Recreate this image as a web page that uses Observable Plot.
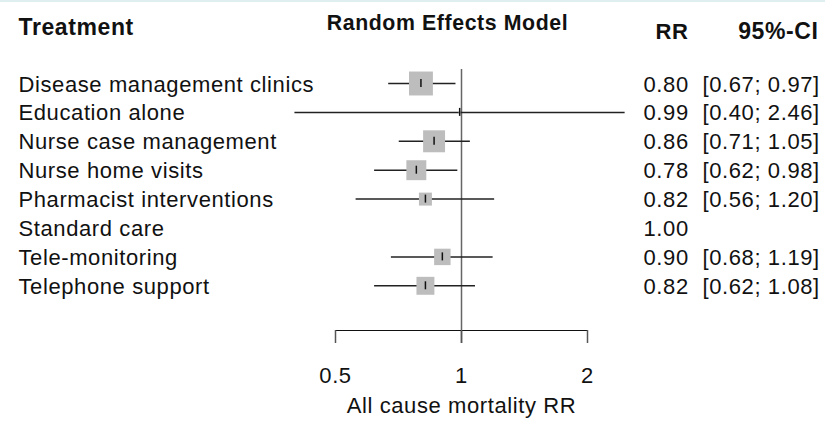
<!DOCTYPE html>
<html>
<head>
<meta charset="utf-8">
<script src="https://cdn.jsdelivr.net/npm/d3@7"></script>
<script src="https://cdn.jsdelivr.net/npm/@observablehq/plot@0.6"></script>
<style>
  html, body { margin: 0; padding: 0; background: #fff; }
  #strip { height: 2px; background: #dfeeee; }
  #chart svg { display: block; }
</style>
</head>
<body>
<div id="strip"></div>
<div id="chart"></div>
<script>
// ---- data ----
const treatments = ["Disease management clinics", "Education alone", "Nurse case management",
  "Nurse home visits", "Pharmacist interventions", "Standard care", "Tele-monitoring", "Telephone support"];
const rr    = [0.80, 0.99, 0.86, 0.78, 0.82, 1.00, 0.90, 0.82];
const lower = [0.67, 0.40, 0.71, 0.62, 0.56, null, 0.68, 0.62];
const upper = [0.97, 2.46, 1.05, 0.98, 1.20, null, 1.19, 1.08];
// relative weights (%)
const weight = [25.8, 0.2, 21.7, 17.9, 7.6, null, 12.2, 14.5];
const xTicks = [0.5, 1, 2];
const xTickLabels = ["0.5", "1", "2"];
const headers = {label: "Treatment", model: "Random Effects Model", est: "RR", ci: "95%-CI"};
const xTitle = "All cause mortality RR";

const rows = treatments.map((t, i) => ({
  treatment: t, rr: rr[i], lower: lower[i], upper: upper[i], weight: weight[i]
}));
const withCI = rows.filter(d => d.lower != null);
const fmt = v => v.toFixed(2);

const ink = "#111";
const plot = Plot.plot({
  width: 825,
  height: 422,
  marginLeft: 335,
  marginRight: 238,
  marginTop: 67,
  marginBottom: 94,
  style: {fontFamily: "'Liberation Sans', Arial, sans-serif", fontSize: "22px", color: ink, letterSpacing: "0.6px", background: "#fff"},
  x: {type: "log", domain: [0.5, 2]},
  y: {type: "point", domain: treatments, range: [81, 283.3], padding: 0, round: false, axis: null},
  r: {type: "sqrt", domain: [0, 25.8], range: [0, 13.5]},
  marks: [
    Plot.ruleX([1], {stroke: "#666", strokeWidth: 1.5, insetBottom: -13}),
    Plot.frame({anchor: "bottom", stroke: ink}),
    Plot.axisX({ticks: xTicks, tickFormat: (d) => xTickLabels[xTicks.indexOf(d)], tickSize: 13, tickPadding: 24,
      label: null, stroke: "#555", strokeWidth: 1.5, fontSize: 22, fill: ink}),
    Plot.ruleY(withCI, {y: "treatment", x1: "lower", x2: "upper", stroke: "#222", strokeWidth: 1.5}),
    Plot.dot(withCI, {x: "rr", y: "treatment", r: "weight", symbol: "square", fill: "#bdbdbd", stroke: "none"}),
    Plot.ruleX(withCI, {x: "rr", y1: "treatment", y2: "treatment", insetTop: -4, insetBottom: -4, stroke: ink, strokeWidth: 1.5}),
    // table columns
    Plot.text(rows, {y: "treatment", text: "treatment", frameAnchor: "left", dx: -317, dy: 1, textAnchor: "start", lineAnchor: "middle", fill: ink, fontSize: 22}),
    Plot.text(rows, {y: "treatment", text: d => fmt(d.rr), frameAnchor: "right", dx: 56, dy: 1, textAnchor: "start", lineAnchor: "middle", fill: ink, fontSize: 22}),
    Plot.text(withCI, {y: "treatment", text: d => `[${fmt(d.lower)}; ${fmt(d.upper)}]`, frameAnchor: "right", dx: 115, dy: 1, textAnchor: "start", lineAnchor: "middle", fill: ink, fontSize: 22}),
    // headers
    Plot.text([headers.label], {frameAnchor: "top-left", dx: -317, dy: -41.5, textAnchor: "start", lineAnchor: "middle", fontWeight: "bold", fill: ink, fontSize: 23}),
    Plot.text([headers.model], {frameAnchor: "top", dx: -14, dy: -46.5, lineAnchor: "middle", fontWeight: "bold", fill: ink, fontSize: 21.3, letterSpacing: "0px"}),
    Plot.text([headers.est], {frameAnchor: "top-right", dx: 101, dy: -38, textAnchor: "end", lineAnchor: "middle", fontWeight: "bold", fill: ink, fontSize: 22}),
    Plot.text([headers.ci], {frameAnchor: "top-right", dx: 231, dy: -38, textAnchor: "end", lineAnchor: "middle", fontWeight: "bold", fill: ink, fontSize: 23}),
    Plot.text([xTitle], {frameAnchor: "bottom", dy: 75, lineAnchor: "middle", fill: ink, fontSize: 22})
  ]
});
document.getElementById("chart").appendChild(plot);
</script>
</body>
</html>
